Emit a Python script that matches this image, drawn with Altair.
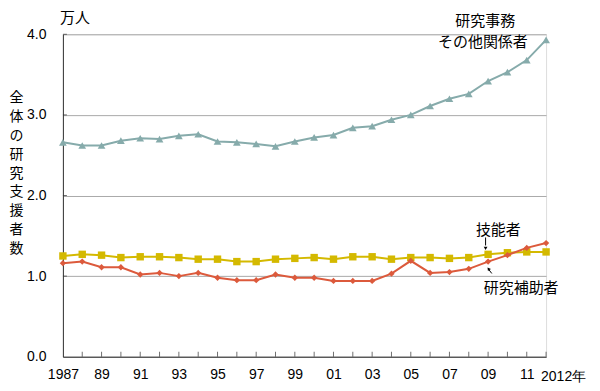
import altair as alt
import pandas as pd

years = list(range(1987, 2013))
other_staff = [2.66, 2.62, 2.62, 2.68, 2.71, 2.70, 2.74, 2.76, 2.67, 2.66, 2.64, 2.61, 2.67,
               2.72, 2.75, 2.84, 2.86, 2.94, 3.00, 3.11, 3.20, 3.26, 3.42, 3.53, 3.68, 3.93]
technicians = [1.25, 1.27, 1.26, 1.23, 1.24, 1.24, 1.23, 1.21, 1.21, 1.18, 1.18, 1.21, 1.22,
               1.23, 1.21, 1.24, 1.24, 1.21, 1.23, 1.23, 1.22, 1.23, 1.27, 1.29, 1.30, 1.30]
assistants = [1.16, 1.18, 1.11, 1.11, 1.02, 1.04, 1.00, 1.04, 0.98, 0.95, 0.95, 1.02, 0.98,
              0.98, 0.94, 0.94, 0.94, 1.03, 1.19, 1.04, 1.05, 1.09, 1.18, 1.26, 1.35, 1.41]

series_names = ["研究事務その他関係者", "技能者", "研究補助者"]
series_values = [other_staff, technicians, assistants]
series_colors = ["#86abab", "#d4b900", "#dc5a3c"]
series_shapes = ["triangle-up", "square", "diamond"]
series_sizes = [60, 55, 40]

y_ticks = [0.0, 1.0, 2.0, 3.0, 4.0]
y_title = list("全体の研究支援者数")
unit_label = "万人"

FONT = "Noto Sans CJK JP"
NUMFONT = "Liberation Sans"

rows = []
for name, vals in zip(series_names, series_values):
    for yr, v in zip(years, vals):
        rows.append({"year": yr, "value": v, "series": name})
df = pd.DataFrame(rows)

xscale = alt.Scale(domain=[1987, 2012], nice=False, zero=False)
yscale = alt.Scale(domain=[0, 4], nice=False)

xaxis = alt.Axis(
    values=years, ticks=False, grid=False, domainColor="#333333", domainWidth=1,
    labelExpr="datum.value == 1987 ? '1987' : (datum.value % 2 == 1 && datum.value < 2012 ? slice(toString(datum.value), 2) : '')",
    labelFont=NUMFONT, labelFontSize=14, labelColor="#000000", labelPadding=11,
    labelFlush=False, labelOverlap=False, title=None,
)
yaxis = alt.Axis(
    values=y_ticks, format=".1f", ticks=False, grid=True, gridColor="#aaaaaa", gridWidth=1,
    domainColor="#333333", labelFont=NUMFONT, labelFontSize=14, labelColor="#000000",
    labelPadding=17, title=y_title, titleAngle=0, titleFont=FONT, titleFontSize=14,
    titleFontWeight="normal", titleLineHeight=19, titleX=-47, titleY=56,
    titleAlign="center", titleBaseline="top", titleColor="#000000",
)

lines = []
for name, c, shp, sz in zip(series_names, series_colors, series_shapes, series_sizes):
    sub = alt.Chart(df[df.series == name])
    ln = sub.mark_line(color=c, strokeWidth=2).encode(
        x=alt.X("year:Q", scale=xscale, axis=xaxis),
        y=alt.Y("value:Q", scale=yscale, axis=yaxis),
    )
    pt = sub.mark_point(shape=shp, filled=True, opacity=1, color=c, size=sz).encode(
        x=alt.X("year:Q", scale=xscale),
        y=alt.Y("value:Q", scale=yscale),
    )
    lines += [ln, pt]

# inward ticks
xticks = alt.Chart(pd.DataFrame({"year": years[1:]})).mark_tick(
    orient="vertical", size=5, thickness=1, color="#333333", yOffset=-2.5
).encode(x=alt.X("year:Q", scale=xscale), y=alt.datum(0, scale=yscale))
yticks = alt.Chart(pd.DataFrame({"v": y_ticks[1:]})).mark_tick(
    orient="horizontal", size=4, thickness=1, color="#333333", xOffset=2
).encode(y=alt.Y("v:Q", scale=yscale), x=alt.datum(1987, scale=xscale))

# annotations
ann_text = ["研究事務", "その他関係者", "技能者", "研究補助者"]
ann_x = [2008.85, 2008.73, 2009.53, 2010.71]
ann_y = [4.17, 3.90, 1.566, 0.848]
ann = alt.Chart(pd.DataFrame({"t": ann_text, "x": ann_x, "y": ann_y})).mark_text(
    font=FONT, fontSize=15, color="#000000", align="center", baseline="middle"
).encode(x=alt.X("x:Q", scale=xscale), y=alt.Y("y:Q", scale=yscale), text="t:N")

unit = alt.Chart(pd.DataFrame({"t": [unit_label]})).mark_text(
    font=FONT, fontSize=15, color="#000000", align="center", baseline="middle"
).encode(x=alt.value(12), y=alt.value(-16), text="t:N")

year_end = alt.Chart(pd.DataFrame({"t": ["2012年"], "x": [2012]})).mark_text(
    font=NUMFONT, fontSize=14, color="#000000", align="left", baseline="middle", dx=-5, dy=20
).encode(x=alt.X("x:Q", scale=xscale), y=alt.datum(0, scale=yscale), text="t:N")

# arrows
arrow_x1 = [2008.87, 2009.19]
arrow_y1 = [1.479, 1.033]
arrow_x2 = [2008.87, 2009.05]
arrow_y2 = [1.38, 1.077]
arrows = alt.Chart(pd.DataFrame({"x": arrow_x1, "y": arrow_y1, "x2": arrow_x2, "y2": arrow_y2})).mark_rule(
    color="#000000", strokeWidth=1
).encode(x=alt.X("x:Q", scale=xscale), y=alt.Y("y:Q", scale=yscale), x2="x2:Q", y2="y2:Q")
head_x = [2008.87, 2009.02]
head_y = [1.345, 1.092]
head_angle = [180, 324]
heads = alt.Chart(pd.DataFrame({"x": head_x, "y": head_y, "a": head_angle})).mark_point(
    shape="triangle-up", filled=True, opacity=1, color="#000000", size=14
).encode(x=alt.X("x:Q", scale=xscale), y=alt.Y("y:Q", scale=yscale),
         angle=alt.Angle("a:Q", scale=None))

chart = alt.layer(*lines, xticks, yticks, ann, unit, year_end, arrows, heads).properties(
    width=484, height=323,
    padding={"left": 55, "top": 26, "right": 46, "bottom": 26},
    autosize=alt.AutoSizeParams(type="none"),
).configure_view(stroke=None).configure(background="#ffffff")

chart.save("out.html", embed_options={"renderer": "svg", "actions": False})
